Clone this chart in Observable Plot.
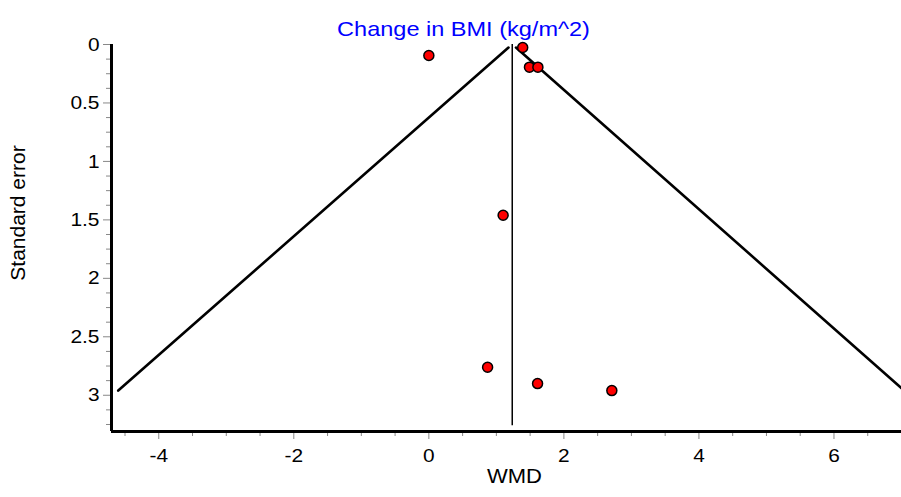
<!DOCTYPE html>
<html>
<head>
<meta charset="utf-8">
<script src="https://cdn.jsdelivr.net/npm/d3@7"></script>
<script src="https://cdn.jsdelivr.net/npm/@observablehq/plot@0.6"></script>
<style>
  html, body { margin: 0; padding: 0; background: #fff; }
</style>
</head>
<body>
<div id="chart"></div>
<script>
// Study estimates (WMD) and their standard errors
const studyWMD = [0.0, 1.39, 1.49, 1.615, 1.10, 0.87, 1.61, 2.71];
const studySE  = [0.094, 0.026, 0.194, 0.194, 1.46, 2.76, 2.90, 2.96];

// Pooled estimate and funnel limits
const pooledWMD = [1.235];
const pooledSpan = [0, 3.26];
const funnelSE = [0.026, 2.96];
const funnelLeftX = [1.18, -4.6];
const funnelRightX = [1.29, 7.04];

// Axes
const xDomain = [-4.7, 7.0];
const yDomain = [0, 3.31];
const xMajorTicks = [-4, -2, 0, 2, 4, 6];
const xMinorTicks = [-4.5, -3.5, -3, -2.5, -1.5, -1, -0.5, 0.5, 1, 1.5, 2.5, 3, 3.5, 4.5, 5, 5.5, 6.5];
const yMajorTicks = [0, 0.5, 1, 1.5, 2, 2.5, 3];
const yMinorTicks = [0.125, 0.25, 0.375, 0.625, 0.75, 0.875, 1.125, 1.25, 1.375, 1.625, 1.75, 1.875, 2.125, 2.25, 2.375, 2.625, 2.75, 2.875, 3.125, 3.25];

const titleText = "Change in BMI (kg/m^2)";
const xLabel = "WMD";
const yLabel = "Standard error";

const points = studyWMD.map((x, i) => ({x, se: studySE[i]}));
const leftLine = funnelSE.map((se, i) => ({x: funnelLeftX[i], se}));
const rightLine = funnelSE.map((se, i) => ({x: funnelRightX[i], se}));

const plot = Plot.plot({
  width: 901,
  height: 497,
  marginLeft: 111,
  marginRight: 0,
  marginTop: 44,
  marginBottom: 66,
  style: {fontFamily: "'Liberation Sans', Arial, sans-serif", fontSize: "19px", color: "black", background: "white"},
  x: {domain: xDomain},
  y: {domain: yDomain, reverse: true},
  marks: [
    Plot.axisX({ticks: xMinorTicks, tickSize: 5, tickFormat: () => "", stroke: "#888", label: null}),
    Plot.axisX({ticks: xMajorTicks, tickSize: 8, tickPadding: 9, stroke: "#888", tickFormat: d => String(d), label: null}),
    Plot.axisY({ticks: yMinorTicks, tickSize: 5, tickFormat: () => "", stroke: "#888", label: null}),
    Plot.axisY({ticks: yMajorTicks, tickSize: 8, tickPadding: 4, stroke: "#888", tickFormat: d => String(d), label: null}),
    Plot.ruleX([xDomain[0]], {strokeWidth: 3, stroke: "black"}),
    Plot.ruleY([yDomain[1]], {strokeWidth: 3, stroke: "black"}),
    Plot.line(leftLine, {x: "x", y: "se", stroke: "black", strokeWidth: 2.6, clip: true}),
    Plot.line(rightLine, {x: "x", y: "se", stroke: "black", strokeWidth: 2.6, clip: true}),
    Plot.ruleX(pooledWMD, {y1: pooledSpan[0], y2: pooledSpan[1], stroke: "black", strokeWidth: 1.5}),
    Plot.dot(points, {x: "x", y: "se", r: 5, fill: "#ff0000", stroke: "black", strokeWidth: 1.5}),
    Plot.text([titleText], {frameAnchor: "top", dx: -43, dy: -23, fill: "#0000ff", fontSize: 21}),
    Plot.text([xLabel], {frameAnchor: "bottom", dx: 8, dy: 51, fill: "black", fontSize: 20}),
    Plot.text([yLabel], {frameAnchor: "left", textAnchor: "middle", rotate: -90, dx: -93, dy: -25, fill: "black", fontSize: 21})
  ]
});

document.getElementById("chart").appendChild(plot);

// Widen glyphs slightly to match the reference's broader lettering (horizontal texts only)
plot.querySelectorAll("text").forEach(t => {
  const tr = (t.getAttribute("transform") || "") + (t.parentNode.getAttribute("transform") || "");
  if (tr.includes("rotate")) return;
  const len = t.getComputedTextLength();
  if (len > 0) {
    const k = t.textContent === titleText ? 1.12 : 1.1;
    t.setAttribute("textLength", (len * k).toFixed(1));
    t.setAttribute("lengthAdjust", "spacingAndGlyphs");
  }
});
</script>
</body>
</html>
